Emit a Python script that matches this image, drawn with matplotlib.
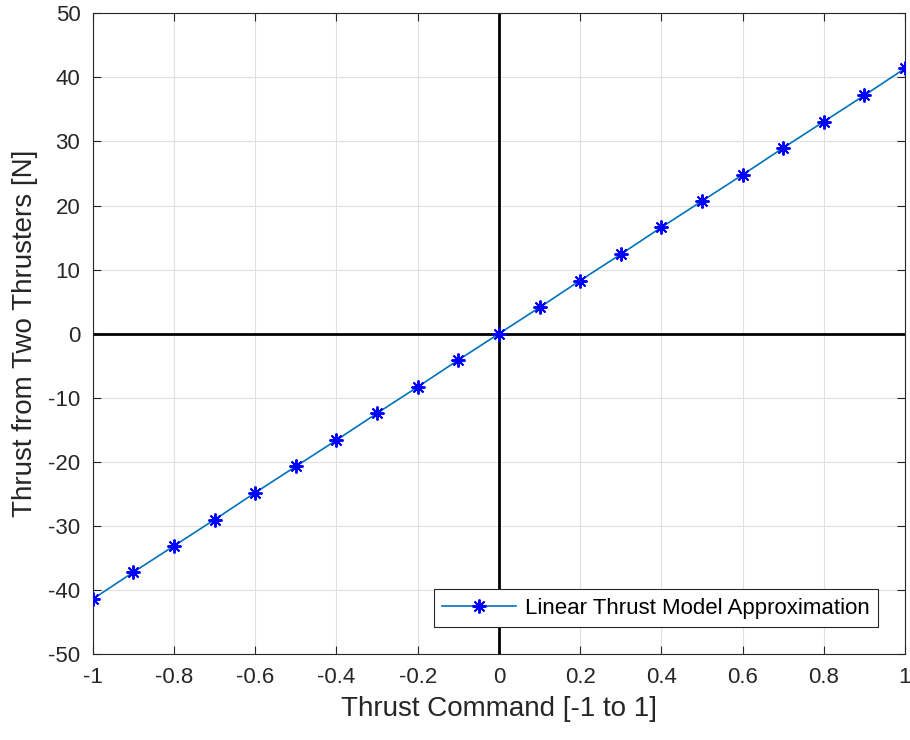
import numpy as np
import matplotlib
matplotlib.use('Agg')
import matplotlib.pyplot as plt

plt.rcParams['font.family'] = ['Liberation Sans', 'DejaVu Sans']
plt.rcParams['axes.unicode_minus'] = False

# commande de poussée et force totale des deux propulseurs
commande = [-1.0, -0.9, -0.8, -0.7, -0.6, -0.5, -0.4, -0.3, -0.2, -0.1,
            0.0, 0.1, 0.2, 0.3, 0.4, 0.5, 0.6, 0.7, 0.8, 0.9, 1.0]
poussee = [-41.4, -37.2, -33.1, -29.0, -24.8, -20.7, -16.6, -12.4, -8.3, -4.1,
           0.0, 4.1, 8.3, 12.4, 16.6, 20.7, 24.8, 29.0, 33.1, 37.2, 41.4]

xticks = [-1, -0.8, -0.6, -0.4, -0.2, 0, 0.2, 0.4, 0.6, 0.8, 1]
xticklabels = ['-1', '-0.8', '-0.6', '-0.4', '-0.2', '0', '0.2', '0.4', '0.6', '0.8', '1']
yticks = [-50, -40, -30, -20, -10, 0, 10, 20, 30, 40, 50]

fig = plt.figure(figsize=(9.1, 7.4), dpi=100)
ax = fig.add_axes([0.102, 0.116, 0.8925, 0.866])

ax.axhline(0, color='black', lw=2, zorder=1)
ax.axvline(0, color='black', lw=2, zorder=1)
ax.plot(commande, poussee, '-', color='#0072BD', lw=1.2, marker=(8, 2, 0),
        markersize=10, markeredgecolor='blue', markerfacecolor='blue',
        markeredgewidth=1.4, label='Linear Thrust Model Approximation', zorder=3)

ax.set_xlim(-1, 1)
ax.set_ylim(-50, 50)
ax.set_xticks(xticks)
ax.set_xticklabels(xticklabels)
ax.set_yticks(yticks)
ax.grid(True, color='#e0e0e0', lw=0.8)
ax.set_axisbelow(True)
ax.tick_params(direction='in', top=True, right=True, labelsize=16, colors='#262626',
               length=6, pad=9)
for s in ax.spines.values():
    s.set_color('#262626')
    s.set_linewidth(0.8)

ax.set_xlabel('Thrust Command [-1 to 1]', fontsize=20, color='#262626', labelpad=6)
ax.set_ylabel('Thrust from Two Thrusters [N]', fontsize=20, color='#262626', labelpad=7)

leg = ax.legend(loc='lower right', fontsize=16, fancybox=False, framealpha=1,
                edgecolor='#262626', borderaxespad=1.2, handlelength=3.3,
                handletextpad=0.4, borderpad=0.4)
leg.get_frame().set_linewidth(0.8)

fig.savefig('out.png', dpi=100)
